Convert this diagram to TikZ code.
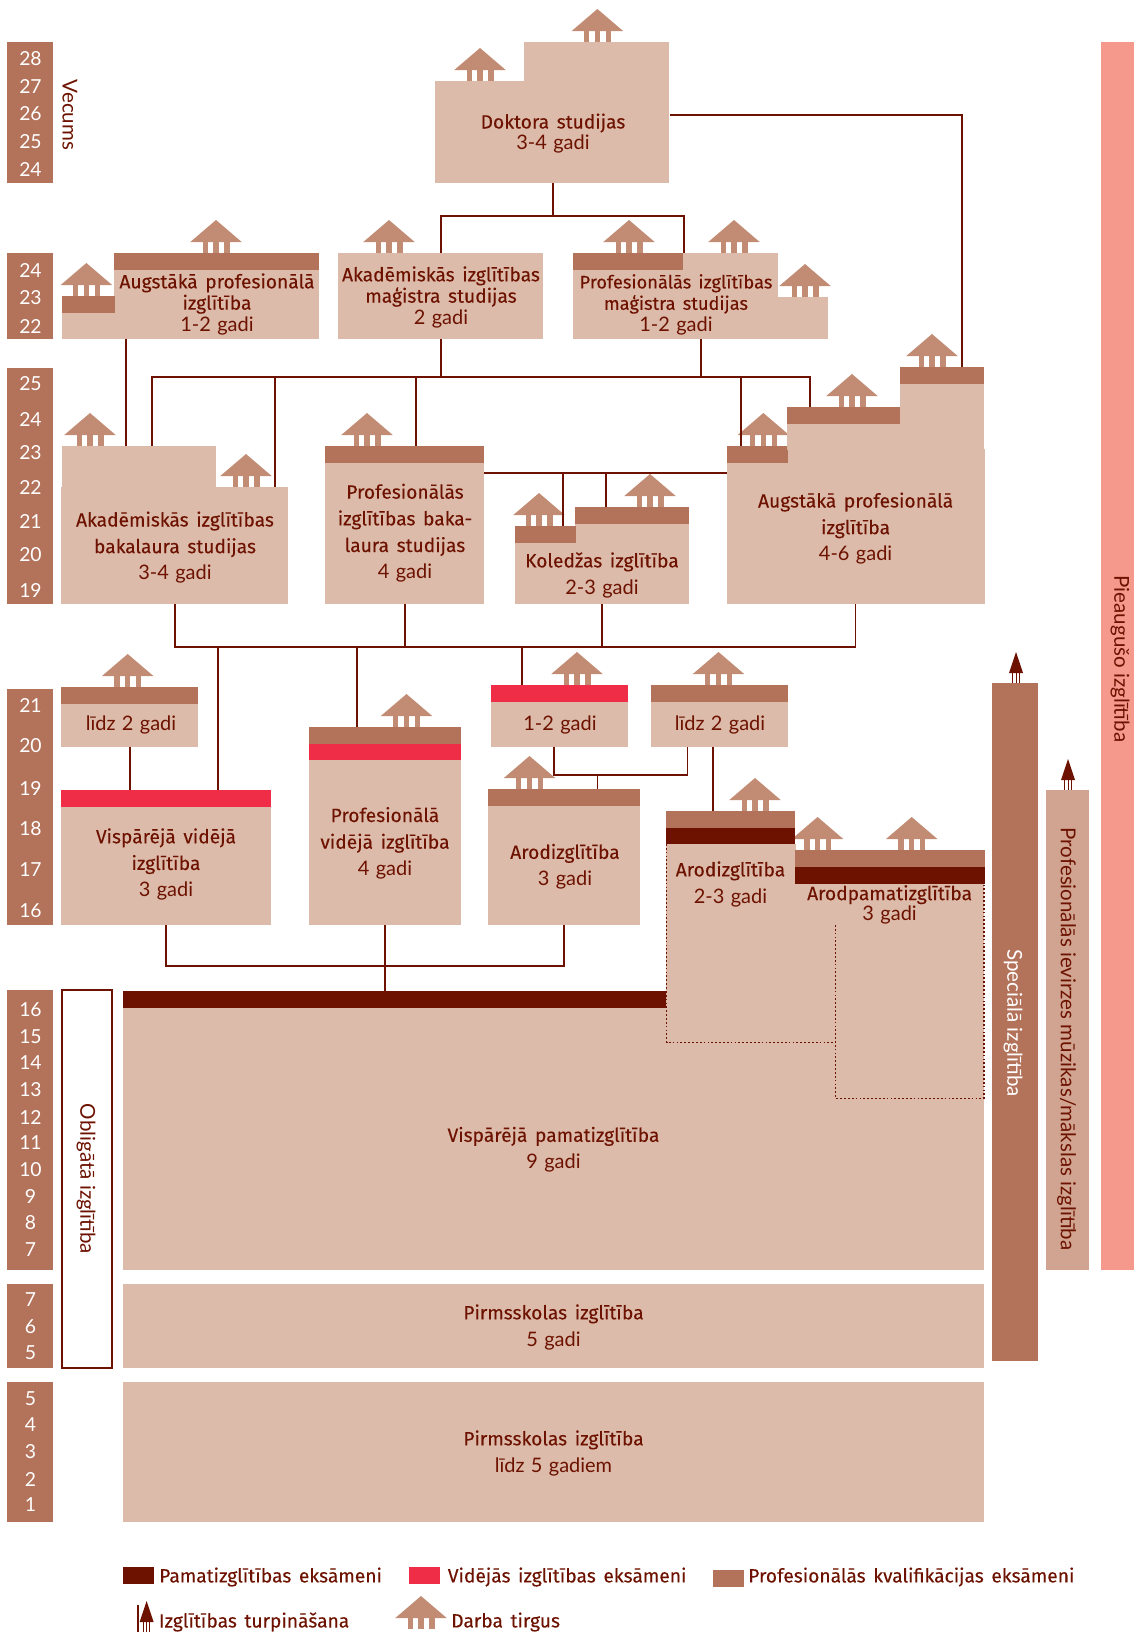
\documentclass[tikz,border=0pt]{standalone}
\usepackage{fontspec}
\setmainfont{Fira Sans}[WordSpace=1.5,FakeBold=0.12]
\newfontfamily\lt{Lato}
\newfontfamily\ltg{Lato}[Scale=1.04,WordSpace=1.25]
\definecolor{peach}{HTML}{DDBBAA}
\definecolor{brn}{HTML}{B3725A}
\definecolor{vred}{HTML}{EF2D47}
\definecolor{dred}{HTML}{6D1200}
\definecolor{hous}{HTML}{C28B73}
\definecolor{pink}{HTML}{F5998C}
\definecolor{musc}{HTML}{D0A490}
\newcommand\gd[1]{{\ltg #1}}
\newcommand\blk[6]{%
  \pgfmathsetmacro\bw{(#4-#2)*0.75}\pgfmathsetmacro\bh{(#5-#3)*0.75}%
  \node[blk,fill=#6,minimum width=\bw pt,minimum height=\bh pt] (#1) at ({(#2+#4)/2},{(#3+#5)/2}) {};}
\newcommand\tx[5]{\node[lab,font=\fontsize{14.4}{#4}\selectfont] (#1) at (#2,{#3+1}) {#5};}
\tikzset{
  blk/.style={rectangle,inner sep=0pt,outer sep=0pt,draw=none},
  lab/.style={inner sep=0pt,outer sep=0pt,align=center,text=dred},
  conn/.style={draw=dred,line width=1.3pt},
  dot/.style={draw=dred,line width=1pt,dash pattern=on 1.3pt off 1.6pt},
  agenum/.style={text=white,inner sep=0pt,font=\lt\fontsize{14.5}{16}\selectfont},
  vert/.style={inner sep=0pt,rotate=-90,font=\lt\fontsize{15.4}{18}\selectfont},
  legt/.style={inner sep=0pt,anchor=west,text=dred,font=\fontsize{14.4}{17}\selectfont},
  house/.pic={
    \fill[hous] (-25.7,-11) -- (0,-33) -- (25.7,-11) -- cycle;
    \fill[hous] (-13.5,-11) rectangle (-8.1,0);
    \fill[hous] (-2.7,-11) rectangle (2.7,0);
    \fill[hous] (8.1,-11) rectangle (13.5,0);
  },
  contarrow/.pic={
    \fill[dred] (-7,-10) -- (0,-31) -- (7,-10) -- cycle;
    \draw[dred,line width=0.7pt] (-3.2,-10) -- (-3.2,0) (0,-10) -- (0,0) (3.2,-10) -- (3.2,0);
  }
}
\begin{document}
\begin{tikzpicture}[x=0.75pt,y=-0.75pt]
\useasboundingbox (0,0) rectangle (1134,1632);
% houses
\foreach \x/\y in {480/81,597.4/42,216/253,86.4/296,389/253,629/253,734/253,805/297,90/446,246/487,367/446,539/526,650/507,763.4/446,852/407,932/367,127.7/687,406.5/727,577/685,718.5/685,529.5/789,755/811,817.6/850,911.7/850}
  \pic at (\x,\y) {house};
% age bars
\blk{ageA}{7}{42}{53}{183}{brn}
\blk{ageB}{7}{253}{53}{338.5}{brn}
\blk{ageC}{7}{368}{53}{604}{brn}
\blk{ageD}{7}{689}{53}{925}{brn}
\blk{ageE}{7}{989.5}{53}{1270}{brn}
\blk{ageF}{7}{1284}{53}{1368}{brn}
\blk{ageG}{7}{1382}{53}{1522}{brn}
\foreach \t/\y in {28/59,27/86,26/114,25/142,24/169,24/270,23/298,22/326,25/384,24/419,23/453,22/487,21/521,20/555,19/590,21/705,20/746,19/788,18/829,17/870,16/911,16/1010,15/1037,14/1063,13/1090,12/1117,11/1143,10/1170,9/1196,8/1223,7/1250,7/1300,6/1327,5/1353,5/1399,4/1425,3/1452,2/1479,1/1505}
  \node[agenum] (n\y) at (30.5,\y) {\t};
% side bars
\blk{pieaug}{1101}{42}{1134}{1270}{pink}
\blk{music}{1046}{790}{1089}{1270}{musc}
\blk{special}{992}{683}{1038}{1360.7}{brn}
\blk{oblig}{62}{990}{112}{1368}{white}
\draw[conn] (oblig.north west) rectangle (oblig.south east);
% doctor
\blk{doc}{435}{81}{669}{183}{peach}
\blk{docup}{524}{42}{669}{81.5}{peach}
% master row
\blk{amag}{62}{296}{319}{338.5}{peach}
\blk{amagup}{114}{253}{319}{296.5}{peach}
\blk{amagb}{114}{253}{319}{270}{brn}
\blk{amagc}{62}{296}{115}{313}{brn}
\blk{akmag}{338}{253}{543}{338.5}{peach}
\blk{prmag}{573}{253}{778}{338.5}{peach}
\blk{prmagl}{777.5}{297}{828}{338.5}{peach}
\blk{prmagb}{573}{253}{683}{270}{brn}
% bachelor row
\blk{abak}{61}{487}{288}{604}{peach}
\blk{abakup}{62}{446}{216}{487.5}{peach}
\blk{pbak}{325}{446}{484}{604}{peach}
\blk{pbakb}{325}{446}{484}{463}{brn}
\blk{kol}{515}{526}{689}{604}{peach}
\blk{kolup}{575}{507}{689}{526.5}{peach}
\blk{kolb}{575}{507}{689}{524}{brn}
\blk{kolc}{515}{526}{576}{543}{brn}
\blk{apro}{727}{449}{985}{604}{peach}
\blk{aproa}{727}{446}{788}{463}{brn}
\blk{aprob}{787}{424}{984}{449.5}{peach}
\blk{aproc}{787}{407}{901}{424}{brn}
\blk{aprod}{900}{384}{984}{424.5}{peach}
\blk{aproe}{900}{367}{984}{384}{brn}
% secondary row
\blk{lidzA}{61}{687}{198}{746.7}{peach}
\blk{lidzAb}{61}{687}{198}{704}{brn}
\blk{vvid}{61}{790}{271}{925}{peach}
\blk{vvidb}{61}{790}{271}{807}{vred}
\blk{pvid}{309}{727}{461}{925}{peach}
\blk{pvidb}{309}{727}{461}{744}{brn}
\blk{pvidc}{309}{744}{461}{760}{vred}
\blk{oneB}{491}{685}{628}{746.7}{peach}
\blk{oneBb}{491}{685}{628}{702}{vred}
\blk{lidzC}{651}{685}{788}{746.7}{peach}
\blk{lidzCb}{651}{685}{788}{702}{brn}
\blk{arod}{488}{789}{640}{925}{peach}
\blk{arodb}{488}{789}{640}{806}{brn}
% basic
\blk{main}{123}{1008}{984}{1270}{peach}
\blk{pamex}{123}{991}{666}{1008}{dred}
\blk{arbody}{666}{844}{795.5}{1043}{peach}
\blk{arpbody}{795}{884}{984}{1100}{peach}
\blk{arex}{665.7}{811}{795}{828}{brn}
\blk{arexb}{665.7}{828}{795}{844}{dred}
\blk{arpex}{795}{850}{985}{867}{brn}
\blk{arpexb}{795}{867}{985}{884}{dred}
\blk{pre}{123}{1284}{984}{1368}{peach}
\blk{prelow}{123}{1382}{984}{1522}{peach}
% arrows
\pic at (1016,683) {contarrow};
\pic at (1068,790) {contarrow};
% connector coordinates
\coordinate (ka) at (553,216.3);
\coordinate (kb) at (441,216.3);
\coordinate (kc) at (684,216.3);
\coordinate (kd) at (670.4,114.7);
\coordinate (ke) at (962,114.7);
\coordinate (la) at (152,377);
\coordinate (lb) at (275,377);
\coordinate (lc) at (416,377);
\coordinate (ld) at (441,377);
\coordinate (le) at (701,377);
\coordinate (lf) at (741,377);
\coordinate (lg) at (810,377);
\coordinate (lh) at (126,377);
\coordinate (ma) at (484,473.3);
\coordinate (mb) at (606,473.3);
\coordinate (mb2) at (563,473.3);
\coordinate (mc) at (727,473.3);
\coordinate (na) at (175,647.3);
\coordinate (nb) at (405,647.3);
\coordinate (nc) at (602,647.3);
\coordinate (nd) at (855.6,647.3);
\coordinate (ne) at (218,647.3);
\coordinate (nf) at (357,647.3);
\coordinate (ng) at (522,647.3);
\coordinate (oa) at (130,748);
\coordinate (ob) at (554,775.3);
\coordinate (oc) at (687.4,775.3);
\coordinate (od) at (597.4,775.3);
\coordinate (oe) at (712.7,748);
\coordinate (pa) at (166,966);
\coordinate (pb) at (385,966);
\coordinate (pc) at (564,966);
% connectors
\draw[conn] (doc.south -| ka) -- (ka);
\draw[conn] (kb |- akmag.north) -- (kb) -- (kc) -- (kc |- prmag.north);
\draw[conn] (kd) -- (ke) -- (ke |- aproe.north);
\draw[conn] (lh |- amag.south) -- (lh |- abakup.north);
\draw[conn] (la |- abakup.north) -- (la) -- (lg) -- (lg |- aproc.north);
\draw[conn] (lb) -- (lb |- abak.north);
\draw[conn] (lc) -- (lc |- pbak.north);
\draw[conn] (ld) -- (ld |- akmag.south);
\draw[conn] (le) -- (le |- prmag.south);
\draw[conn] (lf) -- (lf |- aproa.north);
\draw[conn] (ma) -- (mc);
\draw[conn] (mb) -- (mb |- kolb.north);
\draw[conn] (mb2) -- (mb2 |- kolc.north);
\draw[conn] (na |- abak.south) -- (na) -- (nd) -- (nd |- apro.south);
\draw[conn] (nb |- pbak.south) -- (nb);
\draw[conn] (nc |- kol.south) -- (nc);
\draw[conn] (ne) -- (ne |- vvid.north);
\draw[conn] (nf) -- (nf |- pvid.north);
\draw[conn] (ng) -- (ng |- oneB.north);
\draw[conn] (oa |- lidzA.south) -- (oa |- vvid.north);
\draw[conn] (ob |- oneB.south) -- (ob) -- (oc) -- (oc |- lidzC.south);
\draw[conn] (od) -- (od |- arod.north);
\draw[conn] (oe |- lidzC.south) -- (oe |- arex.north);
\draw[conn] (pa |- vvid.south) -- (pa) -- (pc) -- (pc |- arod.south);
\draw[conn] (pb |- pvid.south) -- (pb |- pamex.north);
% dotted outlines
\coordinate (qa) at (666.5,1042.7);
\coordinate (qb) at (835.7,1042.7);
\coordinate (qc) at (835.7,925);
\coordinate (qd) at (835.7,1098.3);
\coordinate (qe) at (984,1098.3);
\draw[dot] (qa |- arexb.south) -- (qa) -- (qb);
\draw[dot] (qc) -- (qd) -- (qe) -- (qe |- arpexb.south);
% labels
\tx{tdoc}{553}{132.5}{16}{Doktora studijas\\\gd{3-4 gadi}}
\tx{tamag}{217}{303}{16}{Augstākā profesionālā\\izglītība\\\gd{1-2 gadi}}
\tx{takmag}{441}{296}{16}{Akadēmiskās izglītības\\maģistra studijas\\\gd{2 gadi}}
\tx{tprmag}{676}{303.5}{16}{\fontsize{13.7}{16}\selectfont Profesionālās izglītības\\\fontsize{13.7}{16}\selectfont maģistra studijas\\\gd{1-2 gadi}}
\tx{tabak}{175}{546.5}{20}{Akadēmiskās izglītības\\bakalaura studijas\\\gd{3-4 gadi}}
\tx{tpbak}{405}{532}{20}{Profesionālās\\izglītības baka-\\laura studijas\\\gd{4 gadi}}
\tx{tkol}{602}{574}{20}{Koledžas izglītība\\\gd{2-3 gadi}}
\tx{tapro}{855.6}{527.5}{20}{Augstākā profesionālā\\izglītība\\\gd{4-6 gadi}}
\tx{tlidzA}{131}{724}{16}{\gd{līdz 2 gadi}}
\tx{tvvid}{166}{863.3}{20}{Vispārējā vidējā\\izglītība\\\gd{3 gadi}}
\tx{tpvid}{385}{842}{20}{Profesionālā\\vidējā izglītība\\\gd{4 gadi}}
\tx{toneB}{560}{724}{16}{\gd{1-2 gadi}}
\tx{tarod}{565}{865.5}{20}{Arodizglītība\\\gd{3 gadi}}
\tx{tlidzC}{720}{724}{16}{\gd{līdz 2 gadi}}
\tx{tarb}{730.5}{883}{20}{Arodizglītība\\\gd{2-3 gadi}}
\tx{tarp}{889.6}{903.5}{12.7}{Arodpamatizglītība\\\gd{3 gadi}}
\tx{tmain}{553.5}{1148.5}{20}{Vispārējā pamatizglītība\\\gd{9 gadi}}
\tx{tpre}{553.5}{1326}{20}{Pirmsskolas izglītība\\\gd{5 gadi}}
\tx{tprelow}{553.5}{1452}{20}{Pirmsskolas izglītība\\\gd{līdz 5 gadiem}}
% vertical labels
\node[vert,text=dred] (tvec) at (70,115) {Vecums};
\node[vert,text=dred] (tobl) at (86,1179) {Obligātā izglītība};
\node[vert,text=white] (tspe) at (1013,1023) {Speciālā izglītība};
\node[vert,text=dred] (tmus) at (1066.5,1039) {Profesionālās ievirzes mūzikas/mākslas izglītība};
\node[vert,text=dred] (tpie) at (1120,659) {Pieaugušo izglītība};
% legend
\blk{lgA}{123}{1567}{154}{1584}{dred}
\node[legt] (ltA) at (159,1577) {Pamatizglītības eksāmeni};
\blk{lgB}{409}{1567}{440}{1584}{vred}
\node[legt] (ltB) at (447.6,1577) {Vidējās izglītības eksāmeni};
\blk{lgC}{713}{1570}{744}{1587}{brn}
\node[legt] (ltC) at (748,1577) {Profesionālās kvalifikācijas eksāmeni};
\coordinate (lgl) at (138,1605);
\draw[dred,line width=0.8pt] (lgl) -- (138,1632);
\pic at (146.6,1632) {contarrow};
\node[legt] (ltD) at (158.7,1622) {Izglītības turpināšana};
\pic at (421,1629) {house};
\node[legt] (ltE) at (451,1622) {Darba tirgus};
\end{tikzpicture}
\end{document}
